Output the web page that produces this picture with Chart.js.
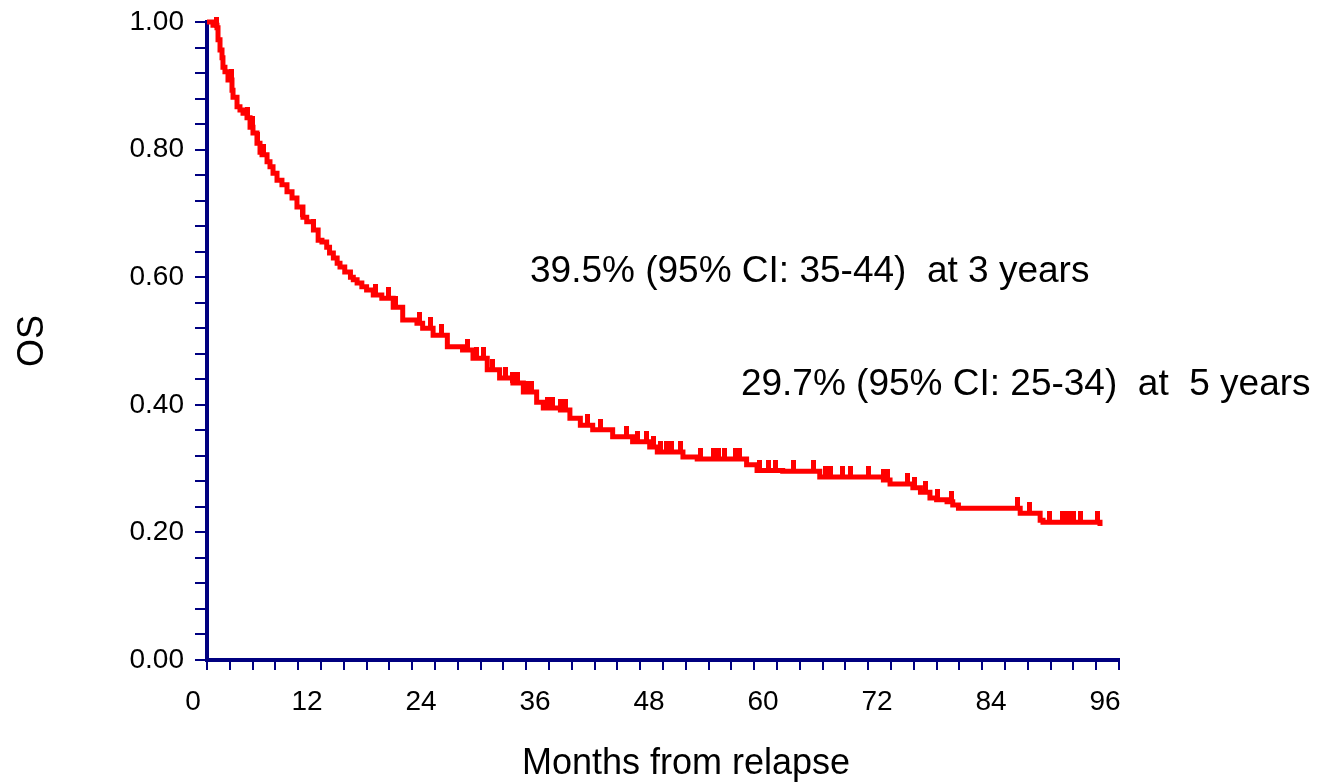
<!DOCTYPE html>
<html>
<head>
<meta charset="utf-8">
<script src="https://cdn.jsdelivr.net/npm/chart.js@4.4.1/dist/chart.umd.min.js"></script>
<style>
  html, body { margin: 0; padding: 0; background: #fff; }
  #wrap { width: 1326px; height: 783px; position: relative; }
</style>
</head>
<body>
<div id="wrap"><canvas id="osChart"></canvas></div>
<script>
// Kaplan-Meier overall survival, step points (month, survival after the drop)
const months = [0, 0.63, 1.05, 1.16, 1.37, 1.58, 1.68, 1.89, 2.21, 2.63, 2.74, 3.16, 3.47, 3.79, 4.21, 4.53,
  4.84, 5.26, 5.58, 5.79, 6.32, 6.63, 6.95, 7.37, 7.89, 8.42, 8.95, 9.47, 10.1, 10.5, 11.2, 11.7, 12.1, 12.6,
  12.9, 13.3, 13.7, 14.0, 14.5, 15.1, 15.4, 15.8, 16.3, 16.8, 17.5, 18.4, 19.6, 20.6, 22.1, 22.7, 23.8, 25.3,
  26.9, 28.0, 29.5, 30.8, 32.2, 33.3, 34.7, 35.4, 37.2, 38.2, 39.3, 40.6, 42.7, 44.8, 46.6, 47.4, 50.1, 51.6,
  56.8, 57.9, 60.6, 64.5, 71.2, 71.9, 74.3, 75.1, 76.1, 76.8, 77.9, 78.5, 79.1, 85.6, 87.7, 88.0, 94.0];
const survival = [1.000, 0.995, 0.991, 0.972, 0.956, 0.944, 0.929, 0.922, 0.909, 0.893, 0.882, 0.867, 0.862,
  0.857, 0.850, 0.835, 0.826, 0.810, 0.796, 0.792, 0.781, 0.773, 0.763, 0.752, 0.745, 0.734, 0.724, 0.710,
  0.694, 0.687, 0.674, 0.658, 0.655, 0.647, 0.638, 0.630, 0.622, 0.616, 0.608, 0.600, 0.596, 0.591, 0.585,
  0.580, 0.572, 0.567, 0.553, 0.533, 0.528, 0.520, 0.509, 0.491, 0.486, 0.473, 0.455, 0.442, 0.434, 0.420,
  0.404, 0.395, 0.392, 0.379, 0.368, 0.361, 0.350, 0.342, 0.334, 0.326, 0.318, 0.315, 0.306, 0.297, 0.296,
  0.287, 0.282, 0.276, 0.270, 0.263, 0.254, 0.251, 0.248, 0.243, 0.238, 0.230, 0.219, 0.216, 0.210];

// censored observations (months)
const censored = [1.05, 2.6, 4.3, 4.8, 5.3, 5.9, 10.1, 11.2, 17.7, 19.1, 19.8, 22.4, 23.5, 24.7, 27.4, 28.4,
  29.1, 30.0, 31.4, 32.2, 32.7, 33.7, 34.2, 35.8, 36.4, 37.2, 37.7, 40.0, 41.4, 44.2, 45.3, 46.3, 47.0, 47.7,
  48.4, 48.9, 49.8, 51.9, 53.3, 53.8, 54.5, 55.6, 56.1, 58.2, 59.1, 59.8, 61.7, 63.8, 65.1, 65.6, 66.9, 67.7,
  69.6, 71.2, 71.6, 73.7, 74.5, 75.6, 76.9, 78.4, 85.3, 86.6, 88.7, 90.1, 90.5, 90.8, 91.2, 91.9, 93.7];

const xLabelMonths = [0, 12, 24, 36, 48, 60, 72, 84, 96];
const yLabelValues = [0, 0.2, 0.4, 0.6, 0.8, 1.0];

const notes = [
  { text: '39.5% (95% CI: 35-44)  at 3 years', month: 34.0, value: 0.608 },
  { text: '29.7% (95% CI: 25-34)  at  5 years', month: 56.2, value: 0.431 }
];

const red = '#ff0000';
const navy = '#000080';
const font = 'Liberation Sans, Arial, sans-serif';

const survAt = t => {
  let s = survival[0];
  months.forEach((m, i) => { if (m <= t) s = survival[i]; });
  return s;
};

// little upward tick for each censored patient
const censorMark = document.createElement('canvas');
censorMark.width = 5;
censorMark.height = 22;
const cm = censorMark.getContext('2d');
cm.fillStyle = red;
cm.fillRect(0, 0, 5, 11);

const textPlugin = {
  id: 'textPlugin',
  afterDraw(chart) {
    const {ctx, scales: {x, y}} = chart;
    ctx.save();
    ctx.fillStyle = '#000';
    ctx.textBaseline = 'middle';
    ctx.font = '37px ' + font;
    ctx.textAlign = 'left';
    notes.forEach(n => ctx.fillText(n.text, x.getPixelForValue(n.month), y.getPixelForValue(n.value)));

    ctx.font = '36px ' + font;
    ctx.textAlign = 'center';
    ctx.fillText('Months from relapse', 686, 764);
    ctx.translate(33, 341);
    ctx.rotate(-Math.PI / 2);
    ctx.fillText('OS', 0, 0);
    ctx.restore();
  }
};

new Chart(document.getElementById('osChart'), {
  type: 'line',
  data: {
    datasets: [{
      data: months.map((m, i) => ({x: m, y: survival[i]})),
      borderColor: red,
      borderWidth: 5,
      stepped: true,
      pointRadius: 0,
      fill: false,
      clip: 8
    }, {
      type: 'scatter',
      data: censored.map(t => ({x: t, y: survAt(t)})),
      pointStyle: censorMark,
      showLine: false,
      clip: 12
    }]
  },
  options: {
    responsive: true,
    maintainAspectRatio: false,
    animation: false,
    events: [],
    layout: { padding: { top: 22, right: 207, left: 0, bottom: 0 } },
    plugins: { legend: { display: false }, tooltip: { enabled: false } },
    scales: {
      x: {
        type: 'linear',
        min: 0,
        max: 96,
        afterFit: s => { s.height = 123; s.paddingLeft = 0; s.paddingRight = 0; },
        border: { color: navy, width: 4 },
        grid: { drawOnChartArea: false, color: navy, lineWidth: 2, tickLength: 10 },
        ticks: {
          stepSize: 2.4,
          autoSkip: false,
          maxRotation: 0,
          labelOffset: -14,
          padding: 15,
          color: '#000',
          font: { family: font, size: 28 },
          callback: v => {
            const m = xLabelMonths.find(l => Math.abs(l - v) < 1e-6);
            return m === undefined ? '' : String(m);
          }
        }
      },
      y: {
        min: 0,
        max: 1,
        afterFit: s => { s.width = 207; s.paddingTop = 0; s.paddingBottom = 0; },
        border: { color: navy, width: 4 },
        grid: { drawOnChartArea: false, color: navy, lineWidth: 2, tickLength: 12 },
        ticks: {
          stepSize: 0.04,
          autoSkip: false,
          padding: 11,
          color: '#000',
          font: { family: font, size: 28 },
          callback: v => {
            const l = yLabelValues.find(k => Math.abs(k - v) < 1e-6);
            return l === undefined ? '' : l.toFixed(2);
          }
        }
      }
    }
  },
  plugins: [textPlugin]
});
</script>
</body>
</html>
